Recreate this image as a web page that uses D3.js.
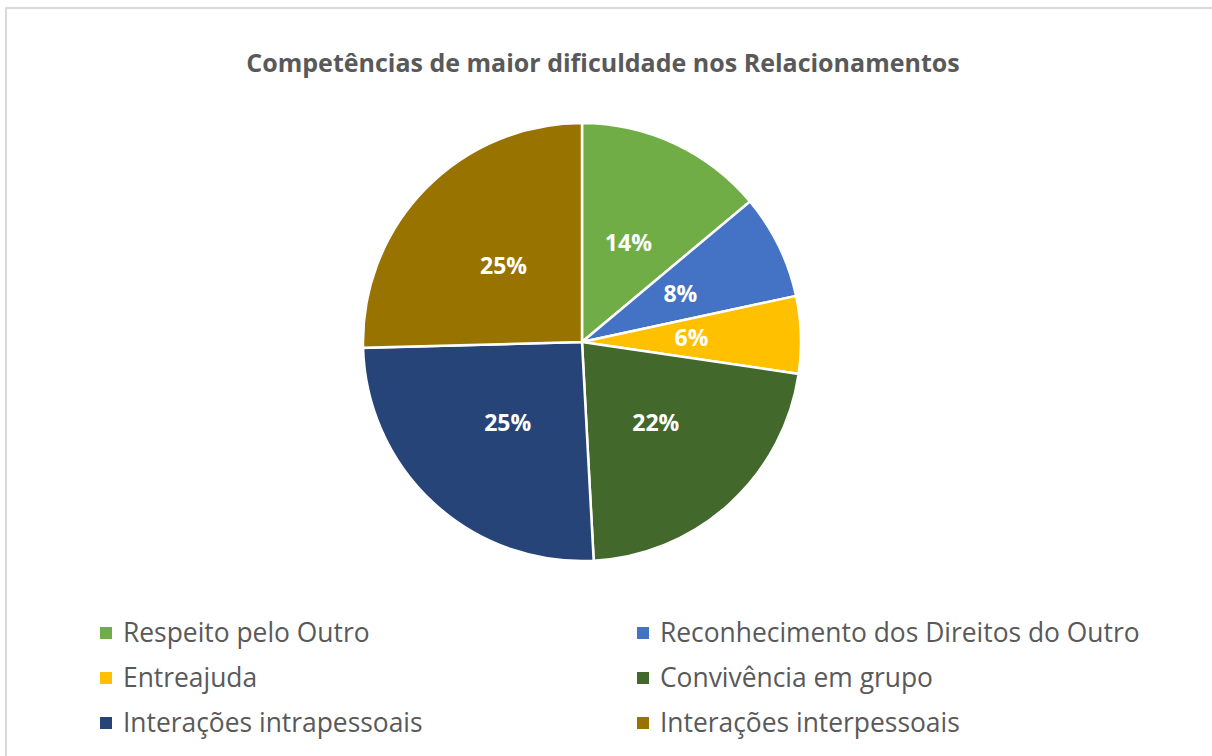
<!DOCTYPE html>
<html>
<head>
<meta charset="utf-8">
<script src="https://cdn.jsdelivr.net/npm/d3@7"></script>
<style>
  body { margin: 0; background: #fff; }
  text { font-family: "Open Sans", sans-serif; }
</style>
</head>
<body>
<div class="piechart"></div>
<script>
// chart data
var categories = ["Respeito pelo Outro", "Reconhecimento dos Direitos do Outro", "Entreajuda",
                  "Convivência em grupo", "Interações intrapessoais", "Interações interpessoais"];
var values = [13.9, 7.7, 5.7, 21.8, 25.4, 25.4];
var colors = ["#70AD47", "#4472C4", "#FFC000", "#43682B", "#264478", "#997300"];
var title = "Competências de maior dificuldade nos Relacionamentos";

//Width and height
var w = 1212;
var h = 756;
var cx = 582, cy = 342, r = 219;

var svg = d3.select(".piechart")
            .append("svg")
            .attr("width", w)
            .attr("height", h);

// chart area border
svg.append("rect")
    .attr("x", 6)
    .attr("y", 8)
    .attr("width", w)
    .attr("height", h)
    .attr("fill", "none")
    .attr("stroke", "#D9D9D9")
    .attr("stroke-width", 2);

svg.append("text")
    .attr("x", 603)
    .attr("y", 72)
    .attr("text-anchor", "middle")
    .attr("font-size", 25)
    .attr("font-weight", "bold")
    .attr("fill", "#595959")
    .text(title);

var total = d3.sum(values);
var pie = d3.pie().sort(null).value(function(d) { return d; });
var arcs = pie(values);
var arc = d3.arc().innerRadius(0).outerRadius(r);
var labelArc = d3.arc().innerRadius(r * 0.5).outerRadius(r * 0.5);

var g = svg.append("g").attr("transform", "translate(" + cx + "," + cy + ")");

g.selectAll("path")
    .data(arcs)
    .enter()
    .append("path")
    .attr("d", arc)
    .attr("fill", function(d, i) { return colors[i]; })
    .attr("stroke", "#fff")
    .attr("stroke-width", 2.5);

var fmt = d3.format(".0%");
g.selectAll("text.lbl")
    .data(arcs)
    .enter()
    .append("text")
    .attr("class", "lbl")
    .attr("transform", function(d) { return "translate(" + labelArc.centroid(d) + ")"; })
    .attr("text-anchor", "middle")
    .attr("dy", "0.35em")
    .attr("font-size", 23)
    .attr("font-weight", "bold")
    .attr("fill", "#fff")
    .text(function(d) { return fmt(d.value / total); });

// legend, two columns
var legend = svg.selectAll("g.leg")
    .data(categories)
    .enter()
    .append("g")
    .attr("class", "leg")
    .attr("transform", function(d, i) {
      var x = (i % 2 === 0) ? 100 : 637;
      var y = 633 + Math.floor(i / 2) * 45;
      return "translate(" + x + "," + y + ")";
    });

legend.append("rect")
    .attr("x", 0)
    .attr("y", -6)
    .attr("width", 12)
    .attr("height", 12)
    .attr("fill", function(d, i) { return colors[i]; });

legend.append("text")
    .attr("x", 23)
    .attr("y", 0)
    .attr("dy", "0.35em")
    .attr("font-size", 26.4)
    .attr("fill", "#595959")
    .text(function(d) { return d; });
</script>
</body>
</html>
